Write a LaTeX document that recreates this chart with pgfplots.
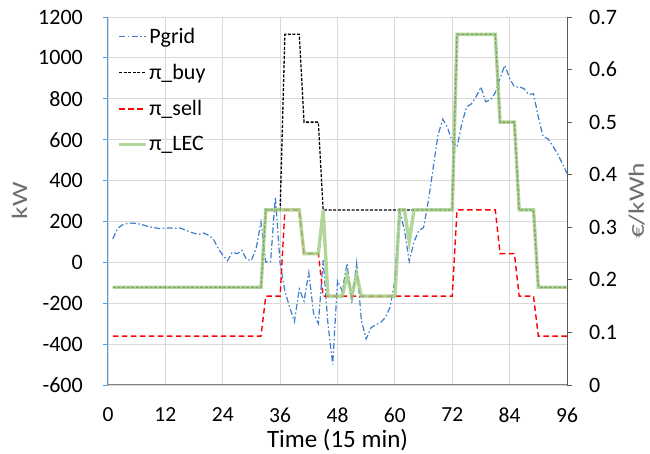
\documentclass[border=0pt]{standalone}
\usepackage{fontspec}
\setmainfont{Carlito}
\usepackage{pgfplots}
\pgfplotsset{compat=1.18}
\usepackage{pgfplotstable}

\definecolor{pblue}{RGB}{60,125,205}
\definecolor{laxis}{RGB}{91,155,213}
\definecolor{lecgreen}{RGB}{160,204,130}
\definecolor{gridc}{RGB}{217,217,217}
\definecolor{raxis}{RGB}{89,89,89}
\definecolor{labgray}{RGB}{110,110,110}

\pgfplotstableread{
t pgrid buy sell lec
1 115 0.186 0.093 0.186
2 165 0.186 0.093 0.186
3 183 0.186 0.093 0.186
4 190 0.186 0.093 0.186
5 192 0.186 0.093 0.186
6 190 0.186 0.093 0.186
7 185 0.186 0.093 0.186
8 178 0.186 0.093 0.186
9 172 0.186 0.093 0.186
10 168 0.186 0.093 0.186
11 165 0.186 0.093 0.186
12 167 0.186 0.093 0.186
13 168 0.186 0.093 0.186
14 166 0.186 0.093 0.186
15 168 0.186 0.093 0.186
16 160 0.186 0.093 0.186
17 150 0.186 0.093 0.186
18 142 0.186 0.093 0.186
19 137 0.186 0.093 0.186
20 143 0.186 0.093 0.186
21 133 0.186 0.093 0.186
22 115 0.186 0.093 0.186
23 70 0.186 0.093 0.186
24 35 0.186 0.093 0.186
25 8 0.186 0.093 0.186
26 50 0.186 0.093 0.186
27 42 0.186 0.093 0.186
28 59 0.186 0.093 0.186
29 13 0.186 0.093 0.186
30 10 0.186 0.093 0.186
31 70 0.186 0.093 0.186
32 197 0.186 0.093 0.186
33 2 0.333 0.169 0.333
34 2 0.333 0.169 0.333
35 320 0.333 0.169 0.333
36 -6 0.333 0.169 0.333
37 -140 0.667 0.333 0.333
38 -220 0.667 0.333 0.333
39 -290 0.667 0.333 0.333
40 -130 0.667 0.333 0.333
41 -190 0.5 0.25 0.25
42 -50 0.5 0.25 0.25
43 -250 0.5 0.25 0.25
44 -300 0.5 0.25 0.25
45 10 0.333 0.169 0.333
46 -300 0.333 0.169 0.169
47 -500 0.333 0.169 0.169
48 -90 0.333 0.169 0.169
49 -140 0.333 0.169 0.169
50 -5 0.333 0.169 0.21
51 -200 0.333 0.169 0.169
52 -5 0.333 0.169 0.21
53 -285 0.333 0.169 0.169
54 -375 0.333 0.169 0.169
55 -320 0.333 0.169 0.169
56 -305 0.333 0.169 0.169
57 -295 0.333 0.169 0.169
58 -270 0.333 0.169 0.169
59 -220 0.333 0.169 0.169
60 -90 0.333 0.169 0.169
61 250 0.333 0.169 0.333
62 160 0.333 0.169 0.333
63 5 0.333 0.169 0.273
64 100 0.333 0.169 0.333
65 155 0.333 0.169 0.333
66 170 0.333 0.169 0.333
67 300 0.333 0.169 0.333
68 460 0.333 0.169 0.333
69 620 0.333 0.169 0.333
70 700 0.333 0.169 0.333
71 660 0.333 0.169 0.333
72 590 0.333 0.169 0.333
73 565 0.667 0.333 0.667
74 678 0.667 0.333 0.667
75 760 0.667 0.333 0.667
76 775 0.667 0.333 0.667
77 810 0.667 0.333 0.667
78 858 0.667 0.333 0.667
79 785 0.667 0.333 0.667
80 795 0.667 0.333 0.667
81 830 0.667 0.333 0.667
82 900 0.5 0.25 0.5
83 964 0.5 0.25 0.5
84 900 0.5 0.25 0.5
85 858 0.5 0.25 0.5
86 858 0.333 0.169 0.333
87 850 0.333 0.169 0.333
88 820 0.333 0.169 0.333
89 825 0.333 0.169 0.333
90 710 0.186 0.093 0.186
91 615 0.186 0.093 0.186
92 605 0.186 0.093 0.186
93 570 0.186 0.093 0.186
94 532 0.186 0.093 0.186
95 485 0.186 0.093 0.186
96 435 0.186 0.093 0.186
}\data

\tikzset{
  pgridstyle/.style={draw=pblue, line width=1.2pt, dash pattern=on 6pt off 2.5pt on 1.5pt off 2.5pt},
  buystyle/.style={draw=black, line width=1.3pt, dash pattern=on 3pt off 1.6pt},
  sellstyle/.style={draw=red, line width=1.4pt, dash pattern=on 5.5pt off 3.5pt},
  lecstyle/.style={draw=lecgreen, line width=3.4pt, opacity=0.8},
}

\begin{document}
\begin{tikzpicture}
\path[use as bounding box] (-108pt,-69pt) rectangle (542pt,385pt);
\begin{axis}[
  at={(0,0)}, anchor=south west,
  scale only axis, width=459pt, height=368pt,
  xmin=0, xmax=96, ymin=-600, ymax=1200,
  xtick={0,12,...,96}, ytick={-600,-400,...,1200},
  scaled y ticks=false,
  /pgf/number format/1000 sep={},
  /pgf/number format/assume math mode=true,
  grid=major, major grid style={gridc, line width=0.8pt},
  axis x line*=bottom, axis y line*=left,
  x axis line style={draw=gray, line width=1pt},
  y axis line style={draw=laxis, line width=1pt},
  tick align=outside, major tick length=5pt,
  xtick style={draw=none},
  ytick style={draw=laxis, line width=0.8pt},
  every tick label/.append style={font=\fontsize{22}{26}\selectfont, inner sep=0pt, text=black},
  yticklabel style={xshift=-20pt},
  xticklabel style={yshift=-17.5pt, font=\fontsize{21.5}{25}\selectfont},
  xlabel={Time (15 min)},
  xlabel style={at={(axis description cs:0.5,-0.15)}, anchor=center, inner sep=0pt, font=\fontsize{25}{28}\selectfont, text=black},
  ylabel={\scalebox{1.25}[1]{kW}},
  ylabel style={at={(axis description cs:-0.1928,0.5)}, anchor=center, inner sep=0pt, font=\fontsize{22}{26}\selectfont, text=labgray},
]
\addplot[pgridstyle] table[x=t, y=pgrid] {\data};
\end{axis}
\begin{axis}[
  at={(0,0)}, anchor=south west,
  scale only axis, width=459pt, height=368pt,
  xmin=0, xmax=96, ymin=0, ymax=0.7,
  axis x line=none, axis y line*=right,
  y axis line style={draw=raxis, line width=1pt},
  ytick={0,0.1,0.2,0.3,0.4,0.5,0.6,0.7},
  /pgf/number format/assume math mode=true,
  tick align=outside, major tick length=5pt,
  ytick style={draw=raxis, line width=0.8pt},
  every tick label/.append style={font=\fontsize{22}{26}\selectfont, inner sep=0pt, text=black},
  yticklabel style={xshift=17pt},
  ylabel={\scalebox{1.25}[1]{€/kWh}},
  ylabel style={at={(axis description cs:1.152,0.5)}, anchor=center, inner sep=0pt, font=\fontsize{22}{26}\selectfont, text=labgray},
  legend style={at={(axis description cs:0.02,0.975)}, anchor=north west, draw=none, fill=none,
    font=\fontsize{22}{26}\selectfont, inner sep=0pt, row sep=16.5pt,
    nodes={inner sep=1.5pt}},
  legend cell align=left,
  legend image code/.code={\draw[#1] (0pt,0pt) -- (27pt,0pt);},
]
\addlegendimage{pgridstyle}
\addlegendentry{Pgrid}
\addlegendimage{buystyle}
\addlegendentry{π\_buy}
\addlegendimage{sellstyle}
\addlegendentry{π\_sell}
\addlegendimage{lecstyle}
\addlegendentry{π\_LEC}
\addplot[buystyle, forget plot] table[x=t, y=buy] {\data};
\addplot[sellstyle, forget plot] table[x=t, y=sell] {\data};
\addplot[lecstyle, forget plot] table[x=t, y=lec] {\data};
\end{axis}
\end{tikzpicture}
\end{document}
